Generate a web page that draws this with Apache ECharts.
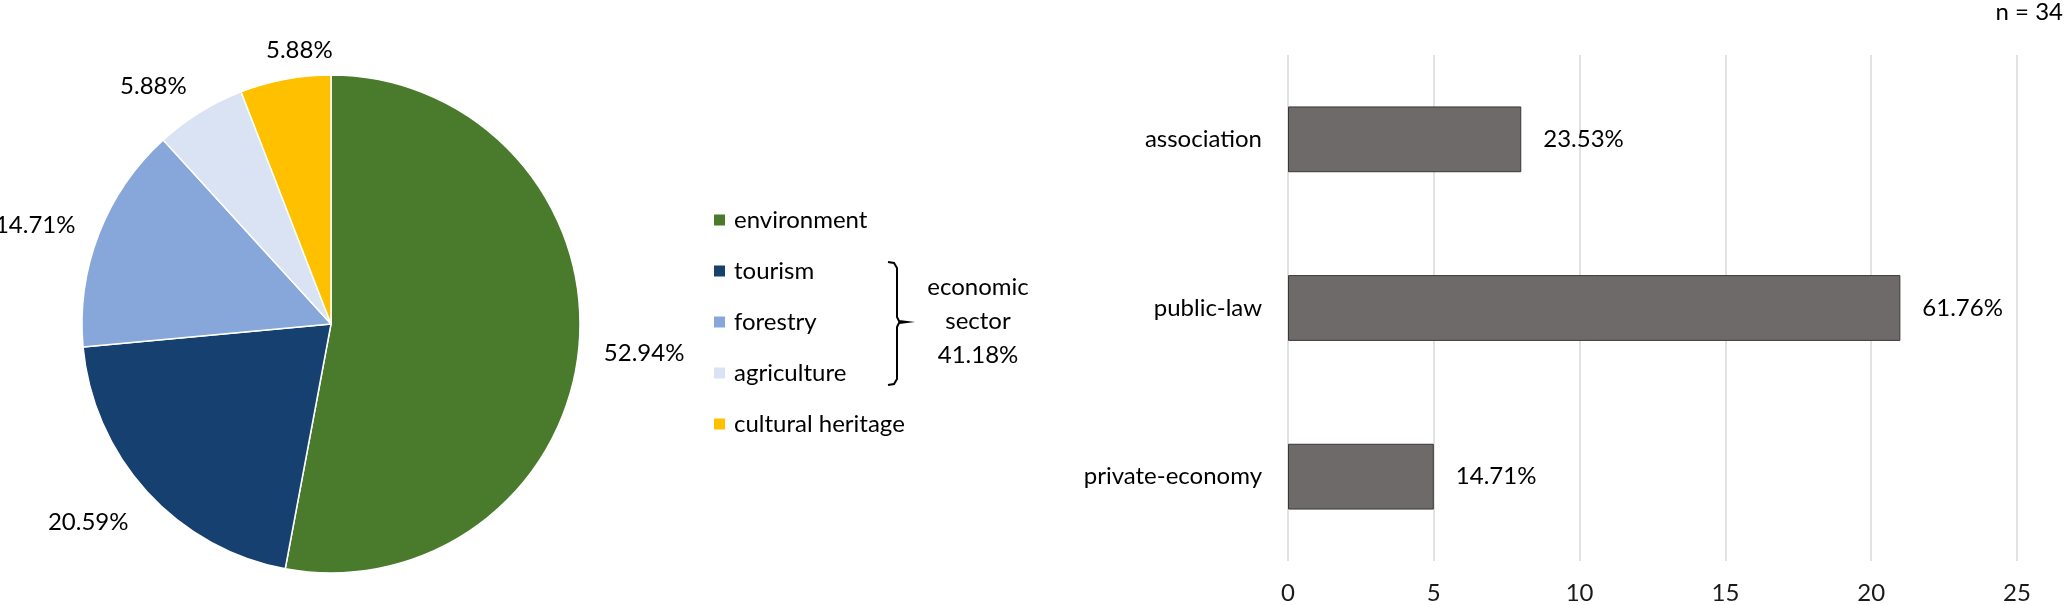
<!DOCTYPE html>
<html>
<head>
<meta charset="utf-8">
<script src="https://cdn.jsdelivr.net/npm/echarts@6/dist/echarts.min.js"></script>
<style>
html,body{margin:0;padding:0;background:#fff;}
#chart{width:2067px;height:605px;}
</style>
</head>
<body>
<div id="chart"></div>
<script>
// ---- data ----
const pieCategories = ['environment', 'tourism', 'forestry', 'agriculture', 'cultural heritage'];
const pieCounts = [18, 7, 5, 2, 2];
const pieColors = ['#4a7a2b', '#15406f', '#87a6da', '#dae3f3', '#ffc000'];
const economicGroup = ['tourism', 'forestry', 'agriculture'];
const economicLabel = ['economic', 'sector'];

const barCategories = ['association', 'public-law', 'private-economy'];
const barValues = [8, 21, 5];
const xTicks = [0, 5, 10, 15, 20, 25];
const sampleLabel = 'n = 34';

const FONT = 'Lato';
const total = pieCounts.reduce((a, b) => a + b, 0);
const barTotal = barValues.reduce((a, b) => a + b, 0);
const econSum = pieCategories.reduce((s, c, i) => s + (economicGroup.includes(c) ? pieCounts[i] : 0), 0);
const econPct = (econSum / total * 100).toFixed(2) + '%';

// small label nudges (style only) for the pie labels
const pieLabelNudge = [[0, 4], [0, 14], [0, 0], [0, -5], [52, -4]];

const chart = echarts.init(document.getElementById('chart'), null, {renderer: 'canvas'});

const option = {
  backgroundColor: '#ffffff',
  animation: false,
  textStyle: {fontFamily: FONT, color: '#000'},
  legend: {
    orient: 'vertical',
    left: 707,
    top: 203,
    itemWidth: 13,
    itemHeight: 13,
    itemGap: 27,
    icon: 'rect',
    data: pieCategories,
    textStyle: {fontFamily: FONT, fontSize: 24, color: '#000', lineHeight: 24, padding: [0, 0, 0, 3]}
  },
  grid: {left: 1288, right: 50, top: 55, bottom: 42, containLabel: false},
  xAxis: {
    type: 'value',
    min: xTicks[0],
    max: xTicks[xTicks.length - 1],
    interval: xTicks[1] - xTicks[0],
    axisLine: {show: false},
    axisTick: {show: false},
    splitLine: {show: true, lineStyle: {color: '#d9d9d9', width: 1.5}},
    axisLabel: {fontFamily: FONT, fontSize: 24, color: '#1a1a1a', margin: 20}
  },
  yAxis: {
    type: 'category',
    inverse: true,
    data: barCategories,
    axisLine: {show: false},
    axisTick: {show: false},
    axisLabel: {fontFamily: FONT, fontSize: 24, color: '#000', margin: 26}
  },
  series: [
    {
      type: 'pie',
      center: [331, 324],
      radius: 249,
      startAngle: 90,
      clockwise: true,
      avoidLabelOverlap: false,
      itemStyle: {borderColor: '#ffffff', borderWidth: 1.5},
      label: {
        show: true,
        position: 'outside',
        formatter: '{d}%',
        fontFamily: FONT,
        fontSize: 24,
        color: '#000',
        distanceToLabelLine: 0
      },
      labelLine: {show: false, length: 25, length2: 0},
      labelLayout: function (p) {
        const n = pieLabelNudge[p.dataIndex] || [0, 0];
        return {dx: n[0], dy: n[1]};
      },
      emphasis: {disabled: true},
      data: pieCategories.map((c, i) => ({name: c, value: pieCounts[i], itemStyle: {color: pieColors[i]}}))
    },
    {
      type: 'bar',
      data: barValues,
      barCategoryGap: '61%',
      itemStyle: {color: '#6e6a69', borderColor: '#3a3635', borderWidth: 1},
      label: {
        show: true,
        position: 'right',
        distance: 22,
        fontFamily: FONT,
        fontSize: 24,
        color: '#000',
        formatter: p => (p.value / barTotal * 100).toFixed(2) + '%'
      },
      emphasis: {disabled: true}
    }
  ],
  graphic: [
    {
      type: 'polyline',
      shape: {points: [[888, 262], [894, 263], [897, 268], [897, 317], [899, 321], [907, 322], [899, 323], [897, 327], [897, 379], [894, 384], [888, 385]]},
      style: {stroke: '#000', lineWidth: 2, fill: null}
    },
    {
      type: 'text',
      x: 978, y: 270,
      style: {
        text: economicLabel.concat([econPct]).join('\n'),
        fontFamily: FONT, fontSize: 24, lineHeight: 34, fill: '#000',
        align: 'center', verticalAlign: 'top'
      }
    },
    {
      type: 'text',
      right: 4, top: 0,
      style: {text: sampleLabel, fontFamily: FONT, fontSize: 24, fill: '#000'}
    }
  ]
};
chart.setOption(option);
</script>
</body>
</html>
